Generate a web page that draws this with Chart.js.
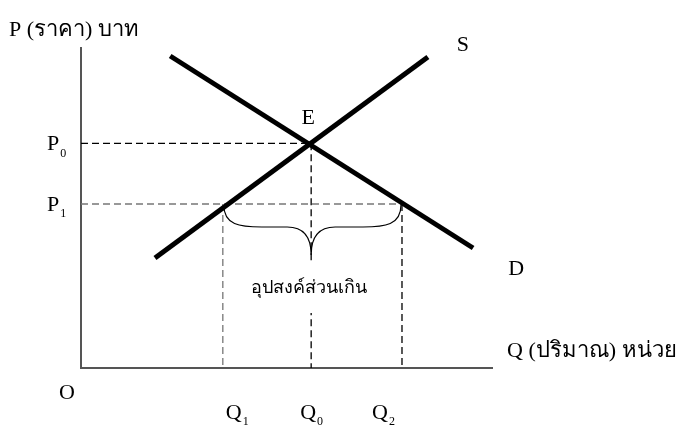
<!DOCTYPE html>
<html>
<head>
<meta charset="utf-8">
<script src="https://cdn.jsdelivr.net/npm/chart.js@4/dist/chart.umd.min.js"></script>
<style>
  body { margin: 0; background: #fff; }
</style>
</head>
<body>
<canvas id="chart" width="687" height="426"></canvas>
<script>
// demand and supply lines (Q, P), two end points each
var demandQ = [21.7, 95.4];
var demandP = [97.5, 37.5];
var supplyQ = [18.0, 84.4];
var supplyP = [34.4, 97.2];

// price levels P0, P1 and quantity levels Q1, Q0, Q2
var priceNames = ['P', 'P'];
var priceSubs = ['0', '1'];
var priceLevels = [70.2, 51.25];
var qtyNames = ['Q', 'Q', 'Q'];
var qtySubs = ['1', '0', '2'];
var qtyLevels = [34.5, 56.0, 78.1];

var yTitle = 'P (ราคา) บาท';
var xTitle = 'Q (ปริมาณ) หน่วย';
var gapLabel = 'อุปสงค์ส่วนเกิน';

function pts(xs, ys) {
	return xs.map(function(x, i) { return {x: x, y: ys[i]}; });
}

var P0 = priceLevels[0], P1 = priceLevels[1];
var Q1 = qtyLevels[0], Q0 = qtyLevels[1], Q2 = qtyLevels[2];

var serif = '"Liberation Serif", "Times New Roman", serif';

function subText(ctx, main, sub, x, y, size) {
	ctx.font = size + 'px ' + serif;
	ctx.textAlign = 'left';
	ctx.textBaseline = 'middle';
	ctx.fillText(main, x, y);
	var w = ctx.measureText(main).width;
	ctx.font = Math.round(size * 0.55) + 'px ' + serif;
	ctx.fillText(sub, x + w + 1, y + size * 0.42);
	ctx.font = size + 'px ' + serif;
}

var labels = {
	id: 'labels',
	afterDatasetsDraw: function(chart) {
		var ctx = chart.ctx, xs = chart.scales.x, ys = chart.scales.y;
		var x0 = xs.getPixelForValue(0), y0 = ys.getPixelForValue(0);
		ctx.save();
		ctx.fillStyle = '#000';

		// axis titles
		ctx.font = '22px ' + serif;
		ctx.textBaseline = 'middle';
		ctx.textAlign = 'left';
		ctx.fillText(yTitle, x0 - 72, ys.getPixelForValue(100) - 18);
		ctx.fillText(xTitle, xs.getPixelForValue(100) + 15, y0 - 17);

		// O, S, D, E
		ctx.textAlign = 'center';
		ctx.fillText('O', x0 - 14, y0 + 25);
		var sx = xs.getPixelForValue(supplyQ[1]), sy = ys.getPixelForValue(supplyP[1]);
		ctx.fillText('S', sx + 35, sy - 12);
		var dx = xs.getPixelForValue(demandQ[1]), dy = ys.getPixelForValue(demandP[1]);
		ctx.fillText('D', dx + 43, dy + 21);
		var ex = xs.getPixelForValue(Q0), ey = ys.getPixelForValue(P0);
		ctx.fillText('E', ex - 3, ey - 25);

		// price labels at left of axis
		priceLevels.forEach(function(p, i) {
			subText(ctx, priceNames[i], priceSubs[i], x0 - 34, ys.getPixelForValue(p) + 1, 22);
		});

		// quantity labels below axis
		var qShift = [3, -11, -30];
		qtyLevels.forEach(function(q, i) {
			subText(ctx, qtyNames[i], qtySubs[i], xs.getPixelForValue(q) + qShift[i], y0 + 45, 22);
		});

		// brace between Q1 and Q2 at P1
		var bl = xs.getPixelForValue(Q1) + 1, br = xs.getPixelForValue(Q2) - 1;
		var by = ys.getPixelForValue(P1) + 1, bm = ex;
		var flat = by + 22, tip = by + 50;
		ctx.strokeStyle = '#000';
		ctx.lineWidth = 1.2;
		ctx.beginPath();
		ctx.moveTo(bl, by);
		ctx.bezierCurveTo(bl, by + 20, bl + 16, flat, bl + 38, flat);
		ctx.lineTo(bm - 24, flat);
		ctx.bezierCurveTo(bm - 8, flat, bm, flat + 10, bm, tip);
		ctx.bezierCurveTo(bm, flat + 10, bm + 8, flat, bm + 24, flat);
		ctx.lineTo(br - 38, flat);
		ctx.bezierCurveTo(br - 16, flat, br, by + 20, br, by);
		ctx.stroke();

		// label under the brace, on white so the dashed line breaks
		ctx.font = '18px "DejaVu Sans", "Noto Sans", sans-serif';
		var tw = ctx.measureText(gapLabel).width;
		ctx.fillStyle = '#fff';
		ctx.fillRect(bm - tw / 2 - 4, tip + 6, tw + 8, 52);
		ctx.fillStyle = '#000';
		ctx.textAlign = 'center';
		ctx.fillText(gapLabel, bm - 2, tip + 33);
		ctx.restore();
	}
};

var dash = [7, 4];
var ctx = document.getElementById('chart').getContext('2d');
var chart = new Chart(ctx, {
	type: 'scatter',
	data: {
		datasets: [
			{
				label: 'D',
				data: pts(demandQ, demandP),
				borderColor: '#000',
				borderWidth: 5
			},
			{
				label: 'S',
				data: pts(supplyQ, supplyP),
				borderColor: '#000',
				borderWidth: 5
			},
			{
				label: 'P0',
				data: pts([0, Q0], [P0, P0]),
				borderColor: '#000',
				borderWidth: 1.3,
				borderDash: dash
			},
			{
				label: 'Q0',
				data: pts([Q0, Q0], [P0, 0]),
				borderColor: '#000',
				borderWidth: 1.3,
				borderDash: dash
			},
			{
				label: 'P1',
				data: pts([0, Q2], [P1, P1]),
				borderColor: '#777',
				borderWidth: 1.6,
				borderDash: dash
			},
			{
				label: 'Q1',
				data: pts([Q1, Q1], [P1, 0]),
				borderColor: '#888',
				borderWidth: 1.5,
				borderDash: dash
			},
			{
				label: 'Q2',
				data: pts([Q2, Q2], [P1, 0]),
				borderColor: '#000',
				borderWidth: 1.3,
				borderDash: dash
			}
		]
	},
	options: {
		responsive: false,
		animation: false,
		devicePixelRatio: 1,
		showLine: true,
		elements: { point: { radius: 0, hoverRadius: 0 } },
		layout: { padding: { left: 73, top: 48, right: 195, bottom: 50 } },
		plugins: { legend: { display: false }, tooltip: { enabled: false } },
		scales: {
			x: {
				type: 'linear', min: 0, max: 100,
				grid: { display: false },
				ticks: { display: false },
				border: { display: true, color: '#555', width: 2 }
			},
			y: {
				type: 'linear', min: 0, max: 100,
				grid: { display: false },
				ticks: { display: false },
				border: { display: true, color: '#555', width: 2 }
			}
		}
	},
	plugins: [labels]
});
</script>
</body>
</html>
